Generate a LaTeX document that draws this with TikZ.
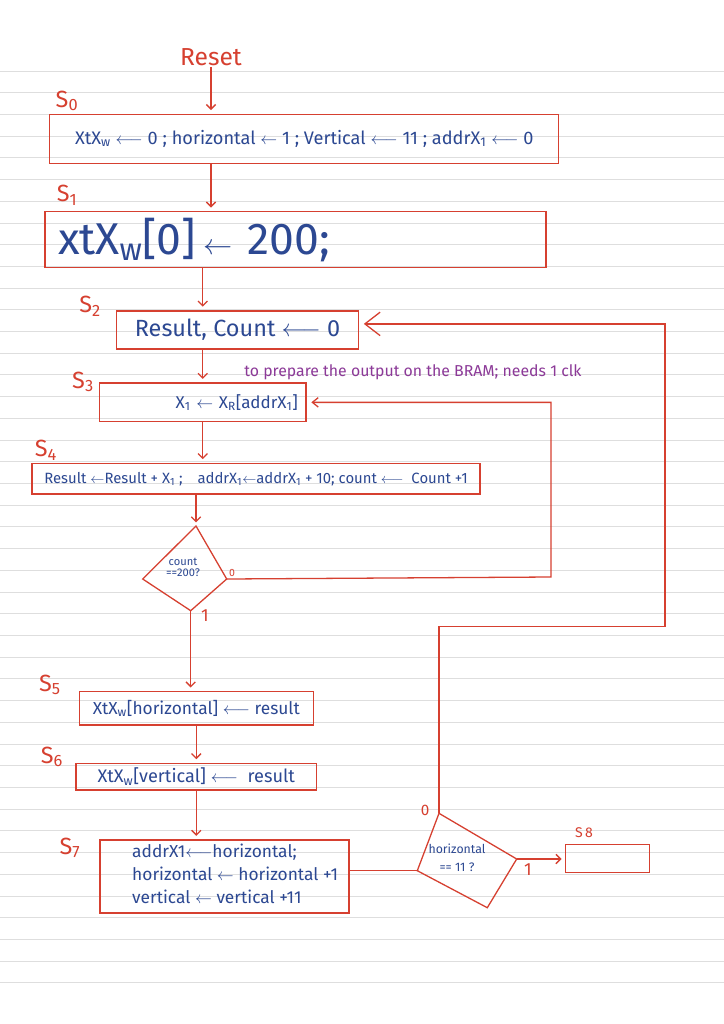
\documentclass[tikz,border=0pt]{standalone}
\usepackage{fontspec}
\setmainfont{Fira Sans}
\usepackage{amsmath}
\usepackage{tikz}
\usetikzlibrary{arrows.meta}

\definecolor{penred}{RGB}{214,64,48}
\definecolor{penblue}{RGB}{44,72,146}
\definecolor{penpurple}{RGB}{140,58,152}
\definecolor{ruling}{RGB}{222,222,222}

\newlength\pxl
\setlength\pxl{0.03cm}
\newcommand\fsz[1]{\fontsize{#1}{#1}\selectfont}

\tikzset{
  statebox/.style={draw=penred, line width=1.1pt, inner sep=0pt, text=penblue, align=center},
  statename/.style={text=penred, inner sep=0pt, font=\fsz{20}},
  branch/.style={text=penred, inner sep=0pt},
  wire/.style={draw=penred, line width=1.1pt},
  flow/.style={wire, -{Straight Barb[length=4pt,width=8pt]}, shorten >=3pt},
}

\begin{document}
\begin{tikzpicture}[x=0.03cm,y=-0.03cm]
\useasboundingbox (0,0) rectangle (724,1024);
\fill[white] (0,0) rectangle (724,1024);
% ruled paper
\foreach \k in {0,...,42}
  \draw[ruling, line width=0.8pt] (0,71+21.71*\k) -- (724,71+21.71*\k);

\node[text=penred, inner sep=1pt, font=\fsz{21}] (reset) at (211,57) {Reset};

\node[statename] (n0) at (67,101) {S\textsubscript{0}};
\node[statebox, minimum width=509\pxl, minimum height=49\pxl, font=\fsz{15.5}] (s0) at (304.3,138.7)
  {XtX\textsubscript{w} $\longleftarrow$ 0 ; horizontal $\leftarrow$ 1 ; Vertical $\longleftarrow$ 11 ; addrX\textsubscript{1} $\longleftarrow$ 0};

\node[statename] (n1) at (67,195) {S\textsubscript{1}};
\node[statebox, minimum width=501\pxl, minimum height=56\pxl, text width=475\pxl, align=left, font=\fsz{38}] (s1) at (295.5,239.7)
  {xtX\textsubscript{w}[0]\,$\leftarrow$\ 200;};

\node[statename] (n2) at (90,306) {S\textsubscript{2}};
\node[statebox, minimum width=242\pxl, minimum height=38\pxl, font=\fsz{20}] (s2) at (237.5,329.9)
  {Result, Count $\longleftarrow$ 0};

\node[text=penpurple, inner sep=0pt, font=\fsz{13.5}] (note) at (413,372)
  {to prepare the output on the BRAM; needs 1 clk};

\node[statename] (n3) at (83,382) {S\textsubscript{3}};
\node[statebox, minimum width=206.5\pxl, minimum height=38.7\pxl, text width=190\pxl, align=right, font=\fsz{14.5}] (s3) at (202.75,402.35)
  {X\textsubscript{1} $\leftarrow$ X\textsubscript{R}[addrX\textsubscript{1}]};

\node[statename] (n4) at (46,450) {S\textsubscript{4}};
\node[statebox, minimum width=448\pxl, minimum height=30.7\pxl, font=\fsz{12.7}] (s4) at (256,478.7)
  {Result $\leftarrow$Result + X\textsubscript{1} ;\quad addrX\textsubscript{1}$\leftarrow$addrX\textsubscript{1} + 10; count $\longleftarrow$ \ Count +1};

% count test
\coordinate (d1t) at (196,526);
\coordinate (d1l) at (142.7,579);
\coordinate (d1r) at (226.7,579);
\coordinate (d1b) at (190.7,610.7);
\draw[wire, line join=miter] (d1t) -- (d1r) -- (d1b) -- (d1l) -- cycle;
\node[text=penblue, align=center, inner sep=0pt, font=\fsz{9.5}] (q1) at (183,567) {count\\==200?};
\node[branch, font=\fsz{9}] (d1no) at (232,573) {0};
\node[branch, font=\fsz{15}] (d1yes) at (205,616) {1};

\node[statename] (n5) at (50,685) {S\textsubscript{5}};
\node[statebox, minimum width=234\pxl, minimum height=33.3\pxl, font=\fsz{14.8}] (s5) at (196.3,708.3)
  {XtX\textsubscript{w}[horizontal] $\longleftarrow$ result};

\node[statename] (n6) at (52,757) {S\textsubscript{6}};
\node[statebox, minimum width=240.7\pxl, minimum height=26.7\pxl, font=\fsz{15.5}] (s6) at (196.3,776.7)
  {XtX\textsubscript{w}[vertical] $\longleftarrow$ \ result};

\node[statename] (n7) at (70,848) {S\textsubscript{7}};
\node[statebox, minimum width=249\pxl, minimum height=73\pxl] (s7) at (224.5,876.5) {};
\node[text=penblue, anchor=west, align=left, inner sep=0pt, font=\fontsize{14.8}{19.8}\selectfont] (s7txt) at (132,874)
  {addrX1$\longleftarrow$horizontal;\\horizontal $\leftarrow$ horizontal +1\\vertical $\leftarrow$ vertical +11};

% horizontal test
\coordinate (d2t) at (439,813.3);
\coordinate (d2l) at (417.3,870.7);
\coordinate (d2r) at (516.7,859);
\coordinate (d2b) at (487.3,907.7);
\draw[wire, line join=miter] (d2t) -- (d2r) -- (d2b) -- (d2l) -- cycle;
\node[text=penblue, align=center, inner sep=0pt, font=\fontsize{10.5}{15}\selectfont] (q2) at (457,858) {horizontal\\== 11 ?};
\node[branch, font=\fsz{13}] (d2no) at (425,810) {0};
\node[branch, font=\fsz{15}] (d2yes) at (528,870) {1};

\node[text=penred, inner sep=0pt, font=\fsz{12}] (n8) at (584,833) {S\,8};
\node[statebox, minimum width=83.6\pxl, minimum height=28.4\pxl] (s8) at (607.5,858.5) {};

\coordinate (loopc) at (551,577);
\coordinate (backc) at (665,626.7);

\draw[flow] (reset.south) -- (reset.south |- s0.north);
\draw[flow] (s0.south -| reset) -- (s1.north -| reset);
\draw[flow] (s1.south -| s3.north) -- (s2.north -| s3.north);
\draw[flow] (s2.south -| s3.north) -- (s3.north);
\draw[flow] (s3.south) -- (s4.north -| s3.south);
\draw[flow] (s4.south -| d1t) -- (d1t);
\draw[wire, -{Straight Barb[length=5pt,width=8pt]}, shorten >=4pt] (d1r) -- (loopc) |- (s3.east);
\draw[flow] (d1b) -- (d1b |- s5.north);
\draw[flow] (s5.south) -- (s6.north);
\draw[flow] (s6.south) -- (s6.south |- s7.north);
\draw[wire] (s7.east |- d2l) -- (d2l);
\draw[flow] (d2r) -- (d2r -| s8.west);
\draw[wire, -{Straight Barb[length=13pt,width=20pt]}, shorten >=4pt] (d2t) |- (backc) |- ([yshift=6\pxl]s2.east);
\end{tikzpicture}
\end{document}
